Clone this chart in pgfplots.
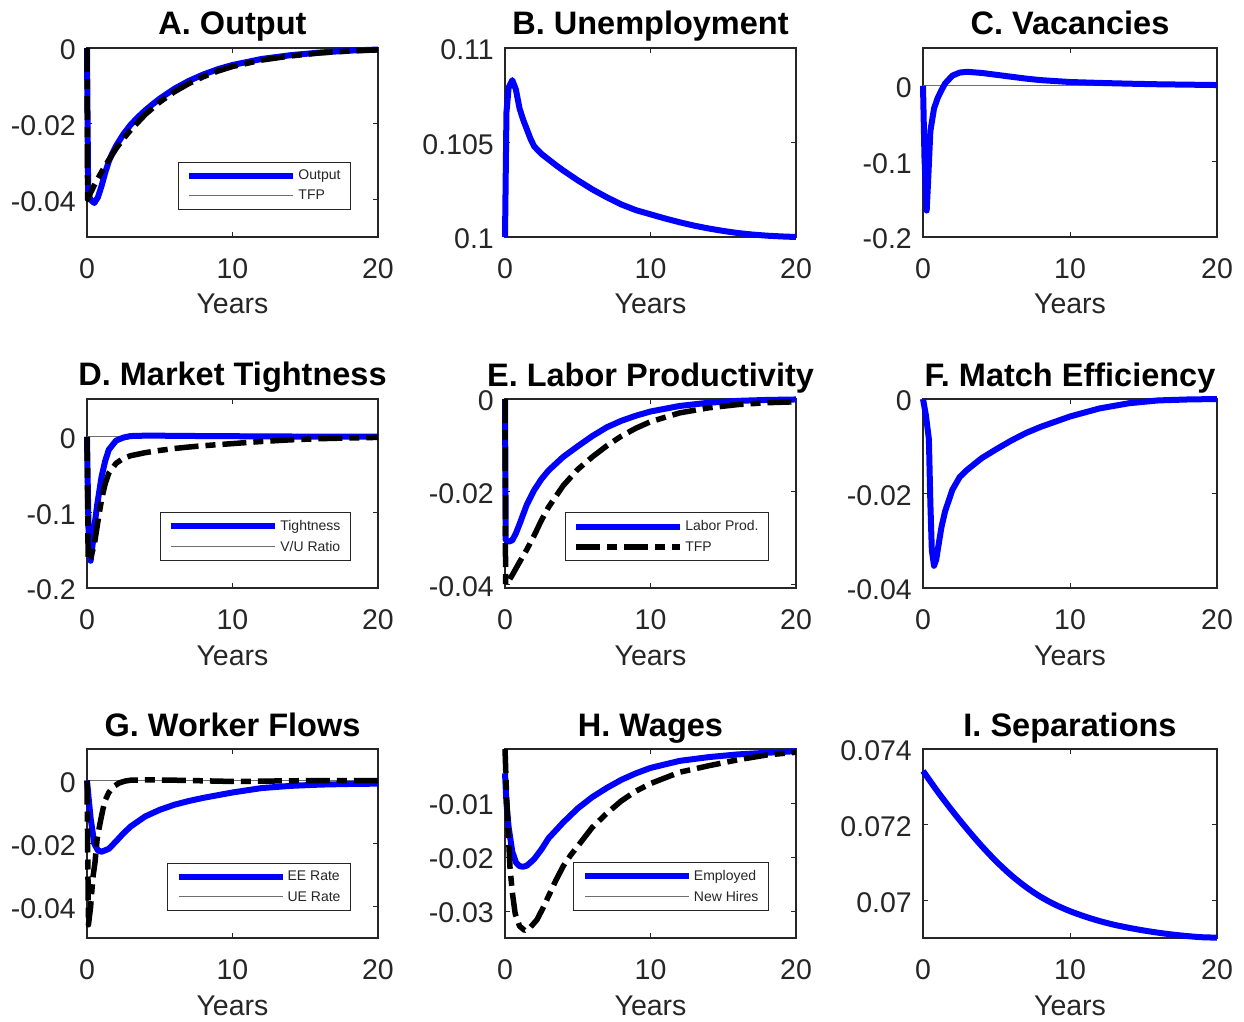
\documentclass[border=0pt]{standalone}
\usepackage{fontspec}
\setmainfont{Liberation Sans}
\usepackage{pgfplots}
\pgfplotsset{compat=1.18}

\definecolor{axgray}{RGB}{38,38,38}
\definecolor{zerogray}{RGB}{110,110,110}
\definecolor{irfblue}{RGB}{0,0,255}

\pgfplotsset{
  irf/.style={
    scale only axis, width=291pt, height=189pt, anchor=south west,
    xmin=0, xmax=20, xtick={0,10,20}, xticklabels={0,10,20},
    tick align=inside, major tick length=5pt,
    axis line style={axgray, line width=1.1pt},
    tick style={axgray, line width=0.9pt},
    every tick label/.append style={text=axgray, font=\fontsize{28.5}{31}\selectfont, inner sep=0pt},
    xticklabel style={anchor=north, yshift=-21pt},
    yticklabel style={anchor=east, xshift=-11pt, yshift=-2pt},
    xlabel={Years},
    xlabel style={at={(axis description cs:0.5,0)}, anchor=base, yshift=-77pt, inner sep=0pt,
      text=axgray, font=\fontsize{28.5}{31}\selectfont},
    title style={at={(axis description cs:0.5,1)}, anchor=base, yshift=7pt, inner sep=0pt,
      font=\bfseries\fontsize{32.5}{36}\selectfont},
    clip=false, scaled ticks=false,
    legend image code/.code={\draw[##1] (0pt,0pt) -- (104pt,0pt);},
    legend cell align=left,
    legend style={at={(1,0)}, anchor=south east, xshift=-27pt, yshift=27pt,
      draw=axgray, line width=1pt, fill=white, text=axgray,
      font=\fontsize{14}{16}\selectfont,
      inner xsep=8pt, inner ysep=6pt, row sep=5pt,
      /tikz/every even column/.append style={column sep=8pt}},
  },
  bl/.style={irfblue, line width=6pt, line join=round, mark=none},
  bk/.style={black, line width=5.5pt, line join=round, mark=none,
    dash pattern=on 24pt off 7pt on 10pt off 7pt},
  zl/.style={zerogray, line width=1pt, mark=none},
}

\begin{document}
\begin{tikzpicture}
\path[use as bounding box] (0,0) rectangle (1244pt,1021pt);

% ---------------- A. Output ----------------
\begin{axis}[irf, at={(87pt,784pt)}, title={A. Output},
  ymin=-0.05, ymax=0, ytick={-0.04,-0.02,0}, yticklabels={-0.04,-0.02,0}]
\addplot[bl] coordinates {
 (0,0) (0.08,-0.0385) (0.25,-0.0402) (0.5,-0.0410) (0.75,-0.0395) (1,-0.0365)
 (1.25,-0.0330) (1.5,-0.0300) (1.75,-0.0278) (2,-0.0259) (2.5,-0.0228) (3,-0.0203)
 (3.5,-0.0183) (4,-0.0165) (4.5,-0.0149) (5,-0.0134) (6,-0.0108) (7,-0.0087)
 (8,-0.0070) (9,-0.0056) (10,-0.0045) (11,-0.0037) (12,-0.0029) (13,-0.0024)
 (14,-0.0019) (16,-0.0012) (18,-0.0007) (20,-0.0004)};
\addlegendentry{Output}
\addlegendimage{zl}
\addlegendentry{TFP}
\addplot[bk, forget plot] coordinates {
 (0,0) (0.04,-0.0400) (0.25,-0.0383) (0.5,-0.0363) (0.75,-0.0345) (1,-0.0328)
 (1.5,-0.0296) (2,-0.0266) (2.5,-0.0240) (3,-0.0217) (4,-0.0176) (5,-0.0143)
 (6,-0.0116) (7,-0.0094) (8,-0.0076) (9,-0.0061) (10,-0.0049) (12,-0.0032)
 (14,-0.0021) (16,-0.0013) (18,-0.0008) (20,-0.0005)};
\end{axis}

% ---------------- B. Unemployment ----------------
\begin{axis}[irf, at={(505pt,784pt)}, title={B. Unemployment},
  ymin=0.1, ymax=0.11, ytick={0.1,0.105,0.11}, yticklabels={0.1,0.105,0.11}]
\addplot[bl] coordinates {
 (0,0.1000) (0.1,0.1066) (0.25,0.1079) (0.5,0.1083) (0.75,0.1078) (1,0.1068)
 (1.25,0.1062) (1.5,0.1057) (1.75,0.1052) (2,0.1048) (2.5,0.10440) (3,0.10410)
 (3.5,0.10380) (4,0.10352) (5,0.10300) (6,0.10252) (7,0.10210) (8,0.10172)
 (9,0.10142) (10,0.10120) (11,0.10098) (12,0.10078) (13,0.10060) (14,0.10045)
 (15,0.10032) (16,0.10021) (17,0.10013) (18,0.10007) (19,0.10003) (20,0.10000)};
\end{axis}

% ---------------- C. Vacancies ----------------
\begin{axis}[irf, at={(923pt,784pt)}, width=294pt, title={C. Vacancies},
  ymin=-0.2, ymax=0.05, ytick={-0.2,-0.1,0}, yticklabels={-0.2,-0.1,0}]
\addplot[zl, forget plot] coordinates {(0,0) (20,0)};
\addplot[bl] coordinates {
 (0,0) (0.1,-0.095) (0.25,-0.165) (0.35,-0.125) (0.5,-0.060) (0.75,-0.030)
 (1,-0.016) (1.25,-0.006) (1.5,0.003) (2,0.0135) (2.5,0.0175) (3,0.0185)
 (4,0.0170) (5,0.0145) (6,0.0120) (7,0.0095) (8,0.0075) (10,0.0050)
 (12,0.0038) (14,0.0028) (16,0.0020) (18,0.0015) (20,0.0010)};
\end{axis}

% ---------------- D. Market Tightness ----------------
\begin{axis}[irf, at={(87pt,433pt)}, title={D. Market Tightness},
  ymin=-0.2, ymax=0.05, ytick={-0.2,-0.1,0}, yticklabels={-0.2,-0.1,0}]
\addplot[zl, forget plot] coordinates {(0,0) (20,0)};
\addplot[bl] coordinates {
 (0,0) (0.1,-0.120) (0.25,-0.164) (0.4,-0.140) (0.5,-0.120) (0.7,-0.090)
 (1,-0.053) (1.25,-0.032) (1.5,-0.017) (2,-0.005) (2.5,-0.001) (3,0.001)
 (4,0.0015) (5,0.0015) (6,0.0012) (8,0.0010) (10,0.0008) (12,0.0005)
 (14,0.0004) (16,0.0003) (18,0.0002) (20,0.0001)};
\addlegendentry{Tightness}
\addlegendimage{zl}
\addlegendentry{V/U Ratio}
\addplot[bk, forget plot] coordinates {
 (0,0) (0.08,-0.164) (0.25,-0.160) (0.5,-0.143) (0.75,-0.112) (1,-0.083)
 (1.25,-0.062) (1.5,-0.048) (2,-0.035) (2.5,-0.0285) (3,-0.025) (4,-0.0210)
 (5,-0.0180) (6,-0.0155) (7,-0.0135) (8,-0.0118) (10,-0.0090) (12,-0.0062)
 (14,-0.0040) (16,-0.0025) (18,-0.0015) (20,-0.0008)};
\end{axis}

% ---------------- E. Labor Productivity ----------------
\begin{axis}[irf, at={(505pt,433pt)}, title={E. Labor Productivity},
  ymin=-0.0408, ymax=0, ytick={-0.04,-0.02,0}, yticklabels={-0.04,-0.02,0}]
\addplot[bl] coordinates {
 (0,0) (0.05,-0.0305) (0.25,-0.0308) (0.5,-0.0305) (0.75,-0.0290) (1,-0.0270)
 (1.5,-0.0228) (2,-0.0197) (2.5,-0.0173) (3,-0.0154) (4,-0.0125) (5,-0.0102)
 (6,-0.0080) (7,-0.0061) (8,-0.0047) (9,-0.0036) (10,-0.0027) (12,-0.0015)
 (14,-0.0008) (16,-0.0004) (18,-0.0002) (20,-0.0001)};
\addlegendentry{Labor Prod.}
\addplot[bk] coordinates {
 (0,0) (0.04,-0.0400) (0.25,-0.0393) (0.5,-0.0380) (1,-0.0352) (1.5,-0.0325)
 (2,-0.0295) (2.5,-0.0262) (3,-0.0233) (4,-0.0187) (5,-0.0152) (6,-0.0125)
 (7,-0.0101) (8,-0.0080) (9,-0.0063) (10,-0.0049) (12,-0.0030) (14,-0.0019)
 (16,-0.0012) (18,-0.0008) (20,-0.0006)};
\addlegendentry{TFP}
\end{axis}

% ---------------- F. Match Efficiency ----------------
\begin{axis}[irf, at={(923pt,433pt)}, width=294pt, title={F. Match Efficiency},
  ymin=-0.04, ymax=0, ytick={-0.04,-0.02,0}, yticklabels={-0.04,-0.02,0}]
\addplot[bl] coordinates {
 (0,0) (0.2,-0.0035) (0.4,-0.0085) (0.5,-0.0220) (0.6,-0.0320) (0.75,-0.0353)
 (0.9,-0.0340) (1,-0.0320) (1.25,-0.0272) (1.5,-0.0238) (2,-0.0192) (2.5,-0.0165)
 (3,-0.0150) (4,-0.0125) (5,-0.0106) (6,-0.0088) (7,-0.0072) (8,-0.0059)
 (10,-0.0037) (12,-0.0020) (14,-0.0009) (16,-0.0003) (18,-0.0001) (20,0)};
\end{axis}

% ---------------- G. Worker Flows ----------------
\begin{axis}[irf, at={(87pt,83pt)}, title={G. Worker Flows},
  ymin=-0.05, ymax=0.01, ytick={-0.04,-0.02,0}, yticklabels={-0.04,-0.02,0}]
\addplot[zl, forget plot] coordinates {(0,0) (20,0)};
\addplot[bl] coordinates {
 (0,0) (0.1,-0.0050) (0.25,-0.0120) (0.5,-0.0200) (0.75,-0.0222) (1,-0.0226)
 (1.5,-0.0217) (2,-0.0193) (2.5,-0.0168) (3,-0.0146) (4,-0.0114) (5,-0.0093)
 (6,-0.0077) (7,-0.0065) (8,-0.0055) (10,-0.0038) (12,-0.0024) (14,-0.0017)
 (16,-0.0013) (18,-0.0011) (20,-0.0010)};
\addlegendentry{EE Rate}
\addlegendimage{zl}
\addlegendentry{UE Rate}
\addplot[bk, forget plot] coordinates {
 (0,0) (0.1,-0.0458) (0.25,-0.0400) (0.4,-0.0310) (0.55,-0.0260) (0.7,-0.0185)
 (0.9,-0.0135) (1.1,-0.0090) (1.25,-0.0063) (1.5,-0.0038) (1.8,-0.0020)
 (2.2,-0.0008) (2.6,-0.0002) (3,0.0001) (4,0.0002) (6,0.0001) (8,-0.0001)
 (10,-0.0003) (12,-0.0002) (14,-0.0001) (16,0) (18,0) (20,0)};
\end{axis}

% ---------------- H. Wages ----------------
\begin{axis}[irf, at={(505pt,83pt)}, title={H. Wages},
  ymin=-0.035, ymax=0, ytick={-0.03,-0.02,-0.01}, yticklabels={-0.03,-0.02,-0.01}]
\addplot[bl] coordinates {
 (0,-0.0045) (0.1,-0.0100) (0.25,-0.0145) (0.5,-0.0190) (0.75,-0.0210) (1,-0.0217)
 (1.25,-0.0218) (1.5,-0.0216) (2,-0.0204) (2.5,-0.0186) (3,-0.0165) (4,-0.0136)
 (5,-0.0110) (6,-0.0089) (7,-0.0072) (8,-0.0057) (9,-0.0045) (10,-0.0035)
 (12,-0.0022) (14,-0.0015) (16,-0.0010) (18,-0.0007) (20,-0.0004)};
\addlegendentry{Employed}
\addlegendimage{zl}
\addlegendentry{New Hires}
\addplot[bk, forget plot] coordinates {
 (0,0) (0.12,-0.0095) (0.34,-0.0218) (0.5,-0.0265) (0.7,-0.0305) (1,-0.0328)
 (1.35,-0.0336) (1.75,-0.0330) (2.2,-0.0316) (2.6,-0.0295) (3,-0.0272)
 (3.5,-0.0243) (4,-0.0217) (4.5,-0.0197) (5,-0.0180) (6,-0.0145) (7,-0.0119)
 (8,-0.0096) (9,-0.0078) (10,-0.0064) (12,-0.0043) (14,-0.0031) (16,-0.0020)
 (18,-0.0011) (20,-0.0006)};
\end{axis}

% ---------------- I. Separations ----------------
\begin{axis}[irf, at={(923pt,83pt)}, width=294pt, title={I. Separations},
  ymin=0.069, ymax=0.074, ytick={0.07,0.072,0.074}, yticklabels={0.07,0.072,0.074}]
\addplot[bl, smooth] coordinates {
 (0,0.07342) (1,0.07287) (2,0.07236) (3,0.07188) (4,0.07143) (5,0.07102)
 (6,0.07066) (7,0.07035) (8,0.07009) (9,0.06988) (10,0.06971) (11,0.06957)
 (12,0.06945) (13,0.06935) (14,0.06927) (15,0.06920) (16,0.06914) (17,0.06909)
 (18,0.06905) (19,0.06902) (20,0.06901)};
\end{axis}
\end{tikzpicture}
\end{document}
